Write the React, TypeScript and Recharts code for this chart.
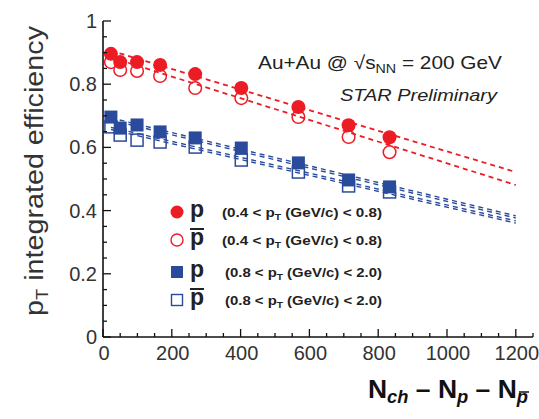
import React from "react";
import { ScatterChart, Scatter, XAxis, YAxis } from "recharts";

// centrality bins (N_ch - N_p - N_pbar)
const nch = [23, 50, 99, 166, 268, 402, 568, 714, 833];
const pLow = [0.896, 0.87, 0.87, 0.861, 0.832, 0.788, 0.728, 0.67, 0.632];
const pbarLow = [0.87, 0.845, 0.842, 0.826, 0.788, 0.756, 0.696, 0.633, 0.585];
const pHigh = [0.696, 0.661, 0.671, 0.649, 0.63, 0.598, 0.551, 0.497, 0.475];
const pbarHigh = [0.665, 0.639, 0.623, 0.617, 0.601, 0.56, 0.522, 0.478, 0.459];

// linear fits, start and end
const fitX = [23, 1200];
const fitPLow = [0.906, 0.522];
const fitPbarLow = [0.885, 0.481];
const fitPHigh = [0.69, 0.38];
const fitPbarHigh = [0.66, 0.364];

const xTicks = Array.from({ length: 26 }, (_, i) => i * 50);
const yTicks = Array.from({ length: 21 }, (_, i) => Math.round(i * 5) / 100);

const RED = "#ec1c24";
const BLUE = "#2a4b9b";
const FONT = "'Liberation Sans', Arial, Helvetica, sans-serif";

const pts = (xs: number[], ys: number[]) => xs.map((x, i) => ({ x, y: ys[i] }));
const shift = (ys: number[], d: number) => ys.map((v) => v + d);

const isMajorX = (v: number) => v % 200 === 0;
const isMajorY = (v: number) => Math.abs(v * 5 - Math.round(v * 5)) < 1e-6;

const BottomTick = (props: any) => {
  const { x, y, payload } = props;
  const v = payload.value;
  const major = isMajorX(v);
  return (
    <g>
      <line x1={x} x2={x} y1={y} y2={y - (major ? 8 : 4)} stroke="#111" strokeWidth={1.3} />
      {major && v <= 1200 && (
        <text x={x + 1} y={y + 23} textAnchor="middle" fontSize={20} fill="#333" fontFamily={FONT}>
          {v}
        </text>
      )}
    </g>
  );
};

const TopTick = (props: any) => {
  const { x, y, payload } = props;
  const major = isMajorX(payload.value);
  return <line x1={x} x2={x} y1={y} y2={y + (major ? 8 : 4)} stroke="#111" strokeWidth={1.3} />;
};

const LeftTick = (props: any) => {
  const { x, y, payload } = props;
  const v = payload.value;
  const major = isMajorY(v);
  const label = v === 0 ? "0" : v === 1 ? "1" : v.toFixed(1);
  return (
    <g>
      <line x1={x} x2={x + (major ? 8 : 4)} y1={y} y2={y} stroke="#111" strokeWidth={1.3} />
      {major && (
        <text x={x - 6} y={y + 7} textAnchor="end" fontSize={20} fill="#333" fontFamily={FONT}>
          {label}
        </text>
      )}
    </g>
  );
};

const RightTick = (props: any) => {
  const { x, y, payload } = props;
  const major = isMajorY(payload.value);
  return <line x1={x} x2={x - (major ? 8 : 4)} y1={y} y2={y} stroke="#111" strokeWidth={1.3} />;
};

const none = () => <g />;

const dashed = (color: string, w: number) => ({
  stroke: color,
  strokeWidth: w,
  strokeDasharray: "5 4",
});

export default function App() {
  return (
    <div style={{ position: "absolute", left: 0, top: 0, width: 539, height: 419, background: "#fff" }}>
      <ScatterChart width={539} height={419} margin={{ top: 21, right: 6, bottom: 0, left: 0 }}>
        <XAxis
          xAxisId="b"
          dataKey="x"
          type="number"
          domain={[0, 1250]}
          ticks={xTicks}
          interval={0}
          height={82}
          tickSize={0}
          tickMargin={0}
          tickLine={false}
          axisLine={{ stroke: "#111", strokeWidth: 1.6 }}
          tick={BottomTick}
        />
        <XAxis
          xAxisId="t"
          orientation="top"
          dataKey="x"
          type="number"
          domain={[0, 1250]}
          ticks={xTicks}
          interval={0}
          height={0}
          tickSize={0}
          tickMargin={0}
          tickLine={false}
          axisLine={{ stroke: "#111", strokeWidth: 1.6 }}
          tick={TopTick}
        />
        <YAxis
          yAxisId="l"
          dataKey="y"
          type="number"
          domain={[0, 1]}
          ticks={yTicks}
          interval={0}
          width={103}
          tickSize={0}
          tickMargin={0}
          tickLine={false}
          axisLine={{ stroke: "#111", strokeWidth: 1.6 }}
          tick={LeftTick}
        />
        <YAxis
          yAxisId="r"
          orientation="right"
          dataKey="y"
          type="number"
          domain={[0, 1]}
          ticks={yTicks}
          interval={0}
          width={0}
          tickSize={0}
          tickMargin={0}
          tickLine={false}
          axisLine={{ stroke: "#111", strokeWidth: 1.6 }}
          tick={RightTick}
        />

        {/* fit lines */}
        <Scatter xAxisId="t" yAxisId="r" data={pts(fitX, fitPLow)} line={dashed(RED, 1.8)} shape={none} isAnimationActive={false} />
        <Scatter xAxisId="t" yAxisId="r" data={pts(fitX, fitPbarLow)} line={dashed(RED, 1.8)} shape={none} isAnimationActive={false} />
        <Scatter xAxisId="t" yAxisId="r" data={pts(fitX, shift(fitPHigh, 0.0035))} line={dashed(BLUE, 1.4)} shape={none} isAnimationActive={false} />
        <Scatter xAxisId="t" yAxisId="r" data={pts(fitX, shift(fitPHigh, -0.0035))} line={dashed(BLUE, 1.4)} shape={none} isAnimationActive={false} />
        <Scatter xAxisId="t" yAxisId="r" data={pts(fitX, shift(fitPbarHigh, 0.0035))} line={dashed(BLUE, 1.4)} shape={none} isAnimationActive={false} />
        <Scatter xAxisId="t" yAxisId="r" data={pts(fitX, shift(fitPbarHigh, -0.0035))} line={dashed(BLUE, 1.4)} shape={none} isAnimationActive={false} />

        {/* open markers */}
        <Scatter
          xAxisId="b"
          yAxisId="l"
          data={pts(nch, pbarLow)}
          isAnimationActive={false}
          shape={(p: any) => <circle cx={p.cx} cy={p.cy} r={6.3} fill="none" stroke={RED} strokeWidth={1.5} />}
        />
        <Scatter
          xAxisId="b"
          yAxisId="l"
          data={pts(nch, pbarHigh)}
          isAnimationActive={false}
          shape={(p: any) => <rect x={p.cx - 6} y={p.cy - 6} width={12} height={12} fill="none" stroke={BLUE} strokeWidth={1.5} />}
        />
        {/* filled markers */}
        <Scatter
          xAxisId="b"
          yAxisId="l"
          data={pts(nch, pLow)}
          isAnimationActive={false}
          shape={(p: any) => <circle cx={p.cx} cy={p.cy} r={7} fill={RED} />}
        />
        <Scatter
          xAxisId="b"
          yAxisId="l"
          data={pts(nch, pHigh)}
          isAnimationActive={false}
          shape={(p: any) => <rect x={p.cx - 6.5} y={p.cy - 6.5} width={13} height={13} fill={BLUE} />}
        />
      </ScatterChart>

      <svg width={539} height={419} style={{ position: "absolute", left: 0, top: 0, pointerEvents: "none" }}>
        {/* y axis title */}
        <text
          transform="translate(43,171) rotate(-90)"
          textAnchor="middle"
          fontSize={25}
          fill="#333"
          fontFamily={FONT}
          textLength={290}
          lengthAdjust="spacingAndGlyphs"
        >
          p<tspan fontSize={16} dy={5}>T</tspan>
          <tspan dy={-5}> integrated efficiency</tspan>
        </text>

        {/* annotation */}
        <text x={258} y={69} fontSize={19} fill="#222" fontFamily={FONT} textLength={244} lengthAdjust="spacingAndGlyphs">
          Au+Au @ √s<tspan fontSize={13} dy={4}>NN</tspan>
          <tspan dy={-4}> = 200 GeV</tspan>
        </text>
        <text x={340} y={101} fontSize={17} fontStyle="italic" fill="#222" fontFamily={FONT} textLength={157} lengthAdjust="spacingAndGlyphs">
          STAR Preliminary
        </text>

        {/* legend */}
        <circle cx={177} cy={212} r={6.5} fill={RED} />
        <circle cx={177} cy={240} r={6} fill="none" stroke={RED} strokeWidth={1.4} />
        <rect x={171} y={266} width={12} height={12} fill={BLUE} />
        <rect x={171.5} y={294.5} width={11} height={11} fill="none" stroke={BLUE} strokeWidth={1.4} />
        {[212, 240, 272, 300].map((cy, i) => (
          <g key={cy}>
            <text x={190} y={cy + 5} fontSize={23} fontWeight="bold" fill="#222" fontFamily={FONT}>
              p
            </text>
            {i % 2 === 1 && <line x1={190} x2={204} y1={cy - 11} y2={cy - 11} stroke="#222" strokeWidth={2} />}
            <text
              x={i < 2 ? 222 : 225}
              y={cy + 5}
              fontSize={12.5}
              fontWeight="bold"
              fill="#222"
              fontFamily={FONT}
              textLength={i < 2 ? 160 : 157}
              lengthAdjust="spacingAndGlyphs"
            >
              (0.{i < 2 ? "4" : "8"} &lt; p<tspan fontSize={8.5} dy={3}>T</tspan>
              <tspan dy={-3}> (GeV/c) &lt; {i < 2 ? "0.8" : "2.0"})</tspan>
            </text>
          </g>
        ))}

        {/* x axis title */}
        <text x={368} y={398} fontSize={26} fontWeight="bold" fill="#111" fontFamily={FONT} textLength={160} lengthAdjust="spacingAndGlyphs">
          N<tspan fontSize={18} fontStyle="italic" dy={5}>ch</tspan>
          <tspan dy={-5}> – N</tspan>
          <tspan fontSize={18} fontStyle="italic" dy={5}>p</tspan>
          <tspan dy={-5}> – N</tspan>
          <tspan fontSize={18} fontStyle="italic" dy={5}>p</tspan>
        </text>
        <line x1={519} x2={529} y1={392} y2={392} stroke="#111" strokeWidth={1.5} />
      </svg>
    </div>
  );
}
